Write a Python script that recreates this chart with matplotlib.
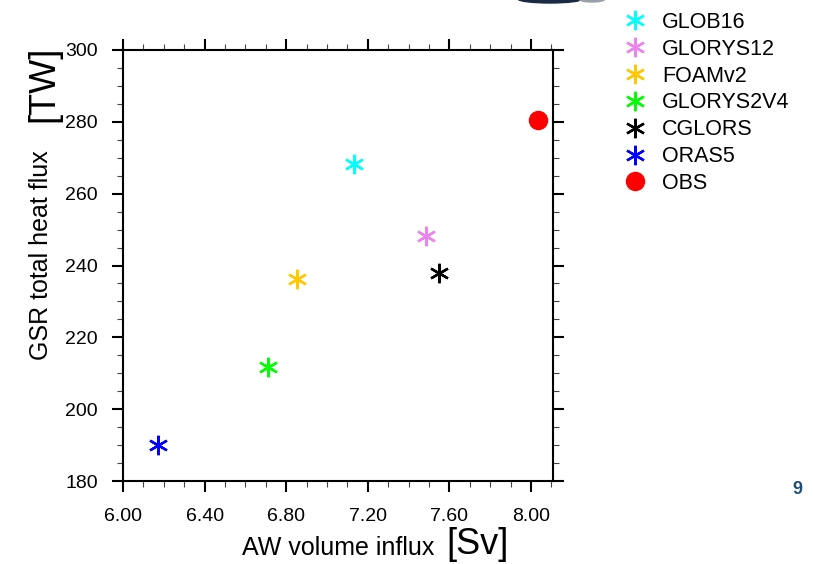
import matplotlib.pyplot as plt
from matplotlib.ticker import MultipleLocator, FormatStrFormatter
from matplotlib.patches import Ellipse

plt.rcParams['font.family'] = ['Liberation Sans', 'DejaVu Sans']

# reanalysis products vs observations
names = ["GLOB16", "GLORYS12", "FOAMv2", "GLORYS2V4", "CGLORS", "ORAS5", "OBS"]
volume = [7.13, 7.485, 6.853, 6.711, 7.549, 6.172, 8.034]   # Sv
heat = [268.2, 248.2, 236.2, 211.7, 237.9, 190.0, 280.4]     # TW
colors = ["#00ffff", "#ee82ee", "#ffc800", "#00ff00", "#000000", "#0000ff", "#ff0000"]

W, H = 813, 564
fig = plt.figure(figsize=(W / 100, H / 100), dpi=100)
ax = fig.add_axes([123 / W, 1 - 481 / H, 430 / W, 431 / H])

asterisk = (6, 2, 0)
for n, x, y, c in zip(names, volume, heat, colors):
    if n == "OBS":
        ax.plot(x, y, 'o', color=c, ms=13, mec=c, label=n)
    else:
        ax.plot(x, y, marker=asterisk, ls='none', color=c, ms=14, mew=1.7, label=n)

ax.set_xlim(6.0, 6.0 + 430 / 204)
ax.set_ylim(180, 300)
ax.xaxis.set_major_locator(MultipleLocator(0.4))
ax.xaxis.set_minor_locator(MultipleLocator(0.1))
ax.yaxis.set_major_locator(MultipleLocator(20))
ax.yaxis.set_minor_locator(MultipleLocator(5))
ax.xaxis.set_major_formatter(FormatStrFormatter('%.2f'))

for s in ax.spines.values():
    s.set_linewidth(1.5)
ax.tick_params(which='both', direction='out', top=True, right=True,
               labeltop=False, labelright=False, labelsize=14)
ax.tick_params(which='major', length=8, width=1.5)
ax.tick_params(which='minor', length=4, width=0.8, color='#444444')
ax.tick_params(axis='y', which='major', pad=10)
ax.tick_params(axis='x', which='major', pad=11.5)

# axis titles, units set larger
fig.text(338 / W, 1 - 548 / H, "AW volume influx", ha='center', va='center', fontsize=18)
fig.text(478 / W, 1 - 545 / H, "[Sv]", ha='center', va='center', fontsize=26)
fig.text(41 / W, 1 - 255 / H, "GSR total heat flux", ha='center', va='center',
         rotation=90, fontsize=18)
fig.text(44 / W, 1 - 84 / H, "[TW]", ha='center', va='center', rotation=90, fontsize=26)

fig.legend(loc='upper left', bbox_to_anchor=(624 / W, 1 - 12 / H), frameon=False,
           fontsize=15.5, handlelength=1.0, handletextpad=0.78, labelspacing=0.27,
           borderaxespad=0, borderpad=0)

# slide number and the edge of a logo cut off at the top
fig.text(797 / W, 1 - 489 / H, "9", ha='center', va='center', fontsize=13,
         fontweight='bold', color='#1f4e79')
fig.patches.append(Ellipse((550 / W, 1 + 1 / H), 64 / W, 8 / H, color='#1a2a44',
                           transform=fig.transFigure, figure=fig))
fig.patches.append(Ellipse((592 / W, 1 + 1 / H), 26 / W, 6 / H, color='#9aa0a8',
                           transform=fig.transFigure, figure=fig))

fig.savefig("out.png", dpi=100)
